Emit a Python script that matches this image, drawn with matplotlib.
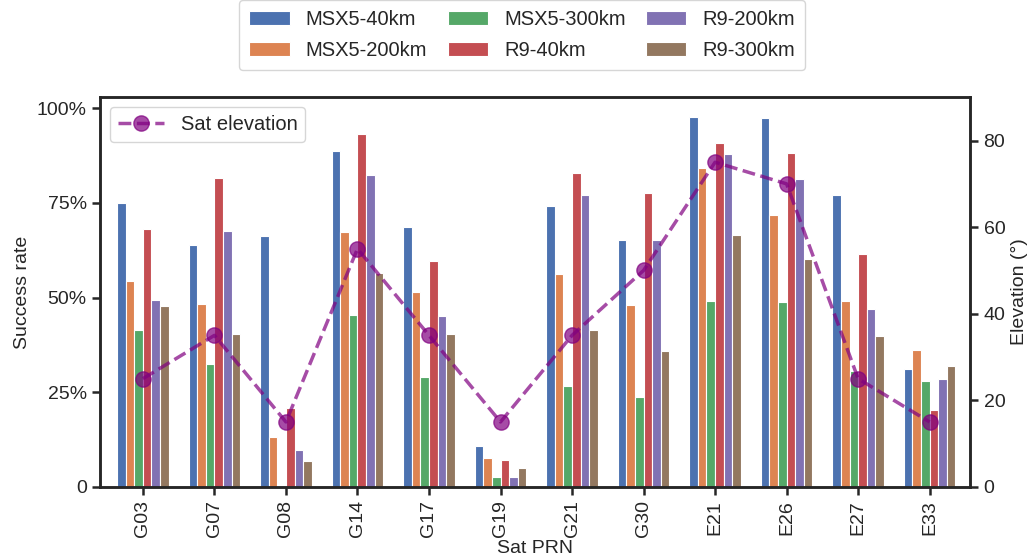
import numpy as np
import matplotlib
matplotlib.use('Agg')
import matplotlib.pyplot as plt
import seaborn as sns

sns.set_theme(style='ticks', palette='deep')
plt.rcParams['font.family'] = ['Liberation Sans', 'DejaVu Sans']
plt.rcParams['axes.linewidth'] = 1.8
plt.rcParams['axes.edgecolor'] = '#262626'

sats = ['G03', 'G07', 'G08', 'G14', 'G17', 'G19', 'G21', 'G30', 'E21', 'E26', 'E27', 'E33']
elev = [25, 35, 15, 55, 35, 15, 35, 50, 75, 70, 25, 15]

msx5_40 = [75.0, 63.8, 66.2, 88.7, 68.6, 10.9, 74.3, 65.3, 97.7, 97.3, 77.2, 31.2]
msx5_200 = [54.4, 48.2, 13.3, 67.3, 51.5, 7.7, 56.2, 48.0, 84.3, 71.9, 49.0, 36.1]
msx5_300 = [41.4, 32.4, 0.0, 45.4, 29.1, 2.5, 26.7, 23.7, 49.1, 48.7, 30.7, 27.9]
r9_40 = [68.0, 81.5, 20.8, 93.3, 59.6, 7.1, 82.9, 77.5, 90.9, 88.3, 61.5, 20.2]
r9_200 = [49.3, 67.5, 9.8, 82.3, 45.1, 2.5, 77.0, 65.2, 87.9, 81.4, 47.0, 28.4]
r9_300 = [47.8, 40.3, 6.9, 56.4, 40.3, 5.1, 41.4, 35.9, 66.6, 60.3, 39.8, 32.0]

series = [msx5_40, msx5_200, msx5_300, r9_40, r9_200, r9_300]
names = ['MSX5-40km', 'MSX5-200km', 'MSX5-300km', 'R9-40km', 'R9-200km', 'R9-300km']
colors = sns.color_palette('deep')

fig = plt.figure(figsize=(10.35, 5.59), dpi=100)
ax = fig.add_axes([0.0966, 0.129, 0.841, 0.697])

x = np.arange(len(sats))
w = 0.12
for i in range(len(series)):
    ax.bar(x + (i - 2.5) * w, np.array(series[i]) / 100, w, color=colors[i],
           edgecolor='white', lw=0.8, label=names[i])

ax.set_xlim(-0.6, 11.57)
ax.set_ylim(0, 1.029)
ax.set_yticks([0, 0.25, 0.5, 0.75, 1.0])
ax.set_yticklabels(['0', '25%', '50%', '75%', '100%'])
ax.set_xticks(x)
ax.set_xticklabels(sats, rotation=90)
ax.set_xlabel('Sat PRN', size=14, labelpad=2)
ax.set_ylabel('Success rate', size=14)
ax.tick_params(labelsize=14, width=1.8, length=6)

ax.legend(loc='lower center', bbox_to_anchor=(0.485, 1.044), ncol=3, fontsize=14.5,
          handlelength=2.0, columnspacing=1.0, labelspacing=0.6, borderpad=0.5,
          frameon=True)

ax2 = ax.twinx()
ax2.plot(x, elev, '--o', color='purple', alpha=0.7, lw=2.5, ms=11, label='Sat elevation')
ax2.set_ylim(0, 90)
ax2.set_yticks([0, 20, 40, 60, 80])
ax2.set_ylabel('Elevation (°)', size=14)
ax2.tick_params(labelsize=14, width=1.8, length=6)
ax2.legend(loc='upper left', fontsize=14.5, handlelength=2.3)

fig.savefig('out.png', dpi=100)
